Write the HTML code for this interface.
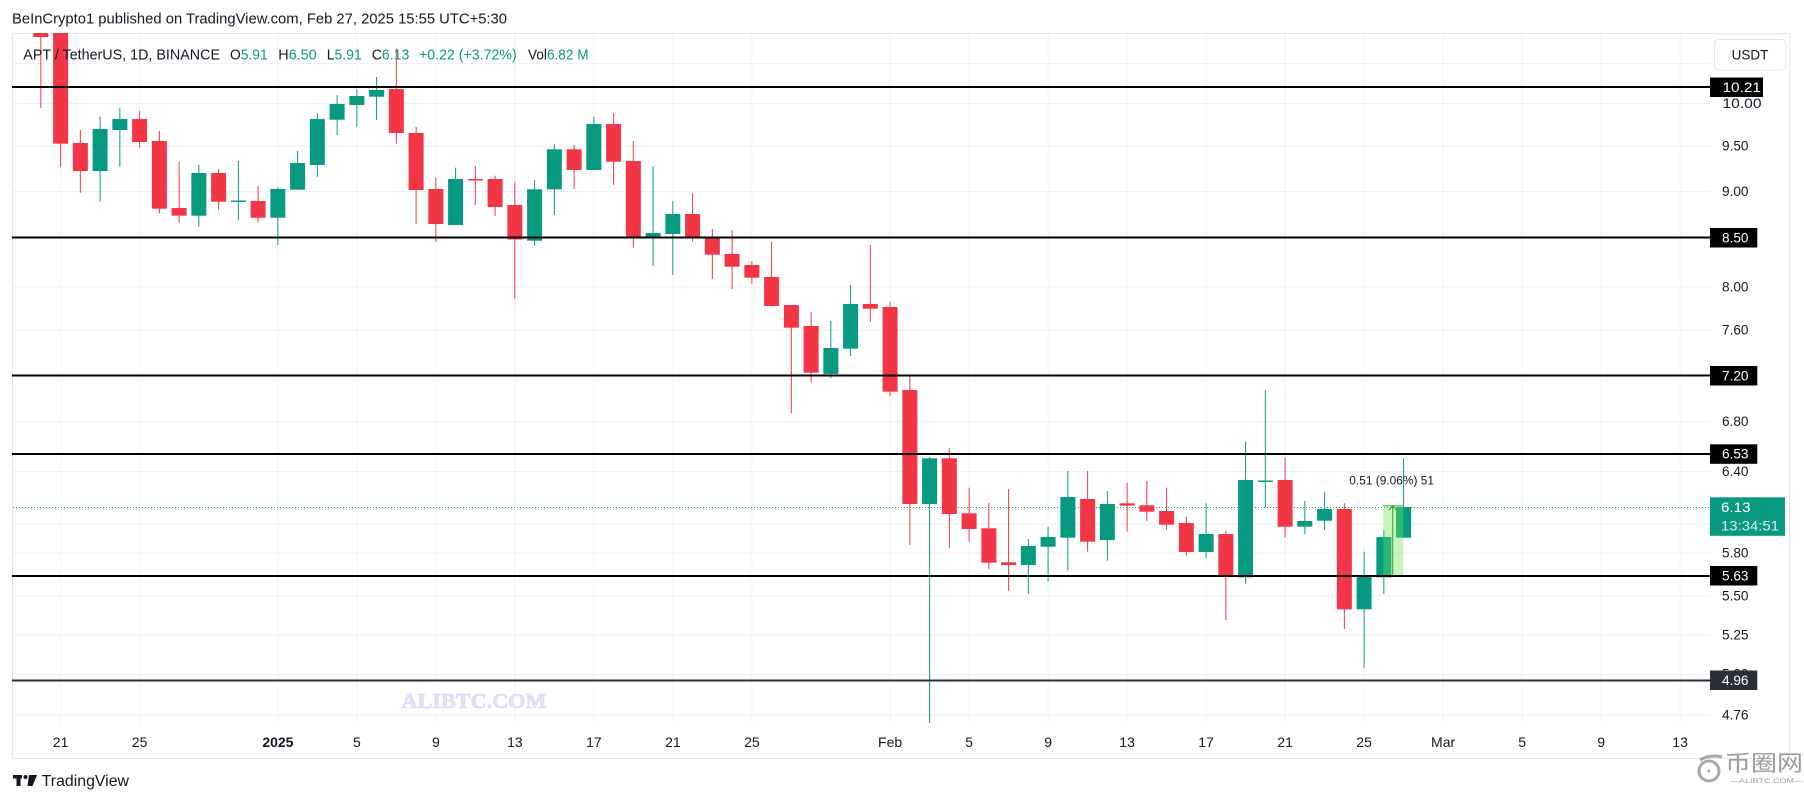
<!DOCTYPE html>
<html><head><meta charset="utf-8"><style>
html,body{margin:0;padding:0;background:#fff;}
svg{display:block;}
.g{fill:#089981}.r{fill:#f23645}
text{font-family:"Liberation Sans",Arial,sans-serif;}
</style></head><body>
<svg width="1804" height="803" viewBox="0 0 1804 803" xmlns="http://www.w3.org/2000/svg">
<rect x="0" y="0" width="1804" height="803" fill="#fff"/>
<!-- frame -->
<rect x="12.5" y="33.5" width="1777" height="725" fill="none" stroke="#e6e8ee" stroke-width="1"/>
<!-- grid vertical -->
<g stroke="#f0f2f6" stroke-width="1">
<line x1="60.6" y1="34" x2="60.6" y2="723"/><line x1="139.6" y1="34" x2="139.6" y2="723"/><line x1="277.9" y1="34" x2="277.9" y2="723"/><line x1="356.9" y1="34" x2="356.9" y2="723"/><line x1="435.9" y1="34" x2="435.9" y2="723"/><line x1="514.9" y1="34" x2="514.9" y2="723"/><line x1="593.9" y1="34" x2="593.9" y2="723"/><line x1="672.9" y1="34" x2="672.9" y2="723"/><line x1="751.9" y1="34" x2="751.9" y2="723"/><line x1="890.1" y1="34" x2="890.1" y2="723"/><line x1="969.1" y1="34" x2="969.1" y2="723"/><line x1="1048.1" y1="34" x2="1048.1" y2="723"/><line x1="1127.1" y1="34" x2="1127.1" y2="723"/><line x1="1206.1" y1="34" x2="1206.1" y2="723"/><line x1="1285.1" y1="34" x2="1285.1" y2="723"/><line x1="1364.1" y1="34" x2="1364.1" y2="723"/><line x1="1443.1" y1="34" x2="1443.1" y2="723"/><line x1="1522.1" y1="34" x2="1522.1" y2="723"/><line x1="1601.1" y1="34" x2="1601.1" y2="723"/><line x1="1680.1" y1="34" x2="1680.1" y2="723"/>
</g>
<!-- grid horizontal -->
<g stroke="#f0f2f6" stroke-width="1">
<line x1="13" y1="63.5" x2="1710" y2="63.5"/><line x1="13" y1="103.5" x2="1710" y2="103.5"/><line x1="13" y1="146" x2="1710" y2="146"/><line x1="13" y1="191.5" x2="1710" y2="191.5"/><line x1="13" y1="287" x2="1710" y2="287"/><line x1="13" y1="330" x2="1710" y2="330"/><line x1="13" y1="421.5" x2="1710" y2="421.5"/><line x1="13" y1="471.5" x2="1710" y2="471.5"/><line x1="13" y1="524" x2="1710" y2="524"/><line x1="13" y1="553" x2="1710" y2="553"/><line x1="13" y1="595.7" x2="1710" y2="595.7"/><line x1="13" y1="635" x2="1710" y2="635"/><line x1="13" y1="674" x2="1710" y2="674"/><line x1="13" y1="715" x2="1710" y2="715"/>
</g>

<!-- watermark -->
<text x="474" y="708" text-anchor="middle" font-family="Liberation Serif, serif" font-weight="bold" font-size="21" fill="#e4e0f8" stroke="#d8d2f2" stroke-width="0.6" textLength="145" lengthAdjust="spacingAndGlyphs" style="font-family:'Liberation Serif',serif">ALIBTC.COM</text>

<!-- current price dotted line -->
<line x1="13" y1="507.5" x2="1710" y2="507.5" stroke="#089981" stroke-width="1" stroke-dasharray="1,2"/>

<!-- candles -->
<svg x="0" y="33" width="1710" height="690" viewBox="0 33 1710 690" overflow="hidden">
<g>
<rect class="r" x="40.35" y="30" width="1" height="78"/><rect class="r" x="33.35" y="30" width="15" height="7"/>
<rect class="r" x="60.1" y="30" width="1" height="136.7"/><rect class="r" x="53.1" y="30" width="15" height="113.7"/>
<rect class="r" x="79.85" y="130" width="1" height="62.7"/><rect class="r" x="72.85" y="143" width="15" height="28"/>
<rect class="g" x="99.6" y="116.7" width="1" height="85"/><rect class="g" x="92.6" y="129" width="15" height="42"/>
<rect class="g" x="119.35" y="107.7" width="1" height="59"/><rect class="g" x="112.35" y="119" width="15" height="11"/>
<rect class="r" x="139.1" y="111" width="1" height="36.7"/><rect class="r" x="132.1" y="119" width="15" height="23"/>
<rect class="r" x="158.85" y="131" width="1" height="82.3"/><rect class="r" x="151.85" y="141" width="15" height="67.7"/>
<rect class="r" x="178.6" y="161.7" width="1" height="61"/><rect class="r" x="171.6" y="208" width="15" height="7.7"/>
<rect class="g" x="198.35" y="165" width="1" height="61.7"/><rect class="g" x="191.35" y="173" width="15" height="42.7"/>
<rect class="r" x="218.1" y="169" width="1" height="40.7"/><rect class="r" x="211.1" y="173" width="15" height="28.7"/>
<rect class="g" x="237.85" y="161" width="1" height="59"/><rect class="g" x="230.85" y="200.5" width="15" height="1.5"/>
<rect class="r" x="257.6" y="186" width="1" height="36.7"/><rect class="r" x="250.6" y="201" width="15" height="16.7"/>
<rect class="g" x="277.35" y="187.3" width="1" height="57.7"/><rect class="g" x="270.35" y="189" width="15" height="28.7"/>
<rect class="g" x="297.1" y="151" width="1" height="38.7"/><rect class="g" x="290.1" y="163" width="15" height="26.7"/>
<rect class="g" x="316.85" y="113.3" width="1" height="63.4"/><rect class="g" x="309.85" y="119" width="15" height="46"/>
<rect class="g" x="336.6" y="95" width="1" height="40"/><rect class="g" x="329.6" y="104" width="15" height="15.7"/>
<rect class="g" x="356.35" y="89" width="1" height="37.7"/><rect class="g" x="349.35" y="96" width="15" height="9"/>
<rect class="g" x="376.1" y="77" width="1" height="43"/><rect class="g" x="369.1" y="90" width="15" height="6.7"/>
<rect class="r" x="395.85" y="48.3" width="1" height="95.4"/><rect class="r" x="388.85" y="89" width="15" height="44"/>
<rect class="r" x="415.6" y="127" width="1" height="97"/><rect class="r" x="408.6" y="133" width="15" height="57"/>
<rect class="r" x="435.35" y="177.7" width="1" height="64"/><rect class="r" x="428.35" y="189" width="15" height="35"/>
<rect class="g" x="455.1" y="167.7" width="1" height="57.3"/><rect class="g" x="448.1" y="179" width="15" height="46"/>
<rect class="r" x="474.85" y="166" width="1" height="39"/><rect class="r" x="467.85" y="179" width="15" height="1.5"/>
<rect class="r" x="494.6" y="175.7" width="1" height="40.3"/><rect class="r" x="487.6" y="179" width="15" height="28"/>
<rect class="r" x="514.35" y="181.7" width="1" height="117.3"/><rect class="r" x="507.35" y="205" width="15" height="34.5"/>
<rect class="g" x="534.1" y="180" width="1" height="65.7"/><rect class="g" x="527.1" y="189.3" width="15" height="51.4"/>
<rect class="g" x="553.85" y="144" width="1" height="71"/><rect class="g" x="546.85" y="149.3" width="15" height="40"/>
<rect class="r" x="573.6" y="145" width="1" height="44"/><rect class="r" x="566.6" y="149.3" width="15" height="20.7"/>
<rect class="g" x="593.35" y="116.7" width="1" height="53.3"/><rect class="g" x="586.35" y="124" width="15" height="46"/>
<rect class="r" x="613.1" y="113.3" width="1" height="71.7"/><rect class="r" x="606.1" y="124" width="15" height="37.7"/>
<rect class="r" x="632.85" y="141" width="1" height="106.7"/><rect class="r" x="625.85" y="161" width="15" height="75.7"/>
<rect class="g" x="652.6" y="166" width="1" height="100"/><rect class="g" x="645.6" y="233" width="15" height="5.3"/>
<rect class="g" x="672.35" y="201" width="1" height="74"/><rect class="g" x="665.35" y="214" width="15" height="20"/>
<rect class="r" x="692.1" y="193.3" width="1" height="48.4"/><rect class="r" x="685.1" y="214" width="15" height="22.7"/>
<rect class="r" x="711.85" y="229" width="1" height="50"/><rect class="r" x="704.85" y="236.7" width="15" height="18"/>
<rect class="r" x="731.6" y="230" width="1" height="59"/><rect class="r" x="724.6" y="254" width="15" height="12.7"/>
<rect class="r" x="751.35" y="261" width="1" height="23"/><rect class="r" x="744.35" y="265" width="15" height="12.7"/>
<rect class="r" x="771.1" y="241.7" width="1" height="65"/><rect class="r" x="764.1" y="277" width="15" height="29"/>
<rect class="r" x="790.85" y="305" width="1" height="108.3"/><rect class="r" x="783.85" y="305" width="15" height="22.7"/>
<rect class="r" x="810.6" y="311.7" width="1" height="71"/><rect class="r" x="803.6" y="326" width="15" height="46.7"/>
<rect class="g" x="830.35" y="321" width="1" height="57.3"/><rect class="g" x="823.35" y="348" width="15" height="26"/>
<rect class="g" x="850.1" y="285" width="1" height="71"/><rect class="g" x="843.1" y="304" width="15" height="44.7"/>
<rect class="r" x="869.85" y="245" width="1" height="76.7"/><rect class="r" x="862.85" y="304" width="15" height="4.7"/>
<rect class="r" x="889.6" y="301.7" width="1" height="94.3"/><rect class="r" x="882.6" y="307" width="15" height="84.7"/>
<rect class="r" x="909.35" y="376" width="1" height="169"/><rect class="r" x="902.35" y="390" width="15" height="114"/>
<rect class="g" x="929.1" y="457" width="1" height="267"/><rect class="g" x="922.1" y="458.3" width="15" height="45.7"/>
<rect class="r" x="948.85" y="448.3" width="1" height="100"/><rect class="r" x="941.85" y="458.3" width="15" height="55.7"/>
<rect class="r" x="968.6" y="487.7" width="1" height="54"/><rect class="r" x="961.6" y="513.3" width="15" height="15.7"/>
<rect class="r" x="988.35" y="502.7" width="1" height="66.3"/><rect class="r" x="981.35" y="528.3" width="15" height="34.4"/>
<rect class="r" x="1008.1" y="489" width="1" height="101.7"/><rect class="r" x="1001.1" y="562.3" width="15" height="2.7"/>
<rect class="g" x="1027.85" y="539" width="1" height="55"/><rect class="g" x="1020.85" y="546" width="15" height="19"/>
<rect class="g" x="1047.6" y="526.7" width="1" height="55"/><rect class="g" x="1040.6" y="537" width="15" height="9.7"/>
<rect class="g" x="1067.35" y="471" width="1" height="99.7"/><rect class="g" x="1060.35" y="497" width="15" height="40.7"/>
<rect class="r" x="1087.1" y="471" width="1" height="80.7"/><rect class="r" x="1080.1" y="499" width="15" height="42.7"/>
<rect class="g" x="1106.85" y="491" width="1" height="69.7"/><rect class="g" x="1099.85" y="504" width="15" height="36"/>
<rect class="r" x="1126.6" y="482.7" width="1" height="49"/><rect class="r" x="1119.6" y="503.3" width="15" height="2.4"/>
<rect class="r" x="1146.35" y="481" width="1" height="40"/><rect class="r" x="1139.35" y="505.3" width="15" height="6.4"/>
<rect class="r" x="1166.1" y="487.7" width="1" height="42.3"/><rect class="r" x="1159.1" y="511" width="15" height="13.7"/>
<rect class="r" x="1185.85" y="516.7" width="1" height="39"/><rect class="r" x="1178.85" y="523" width="15" height="29"/>
<rect class="g" x="1205.6" y="503.3" width="1" height="55"/><rect class="g" x="1198.6" y="534" width="15" height="18"/>
<rect class="r" x="1225.35" y="531" width="1" height="89"/><rect class="r" x="1218.35" y="534" width="15" height="41"/>
<rect class="g" x="1245.1" y="441.7" width="1" height="142.3"/><rect class="g" x="1238.1" y="480" width="15" height="97.3"/>
<rect class="g" x="1264.85" y="390" width="1" height="117.3"/><rect class="g" x="1257.85" y="480.5" width="15" height="1.5"/>
<rect class="r" x="1284.6" y="457.7" width="1" height="80"/><rect class="r" x="1277.6" y="480" width="15" height="46.7"/>
<rect class="g" x="1304.35" y="501" width="1" height="33"/><rect class="g" x="1297.35" y="521" width="15" height="5.7"/>
<rect class="g" x="1324.1" y="492.3" width="1" height="37.7"/><rect class="g" x="1317.1" y="509" width="15" height="11.7"/>
<rect class="r" x="1343.85" y="503.3" width="1" height="125.7"/><rect class="r" x="1336.85" y="509" width="15" height="100.3"/>
<rect class="g" x="1363.6" y="551.7" width="1" height="116"/><rect class="g" x="1356.6" y="576.7" width="15" height="32.6"/>
<rect class="g" x="1383.35" y="530" width="1" height="64"/><rect class="g" x="1376.35" y="537" width="15" height="40.3"/>
<rect class="g" x="1403.1" y="458.3" width="1" height="79.4"/><rect class="g" x="1396.1" y="507" width="15" height="30.7"/>
</g>
</svg>

<!-- measurement tool -->
<rect x="1383.3" y="505.3" width="20" height="71.4" fill="rgba(110,225,80,0.38)"/>
<line x1="1383.3" y1="505.8" x2="1403.3" y2="505.8" stroke="#4caf50" stroke-width="1"/>
<line x1="1392.7" y1="506" x2="1392.7" y2="576.5" stroke="#2e9e3a" stroke-width="1"/>
<polyline points="1388.7,510 1392.7,506 1396.7,510" fill="none" stroke="#2e9e3a" stroke-width="1"/>
<text x="1349.3" y="484.5" font-size="11.5" fill="#131722" textLength="84.7" lengthAdjust="spacingAndGlyphs">0.51 (9.06%) 51</text>

<!-- level lines -->
<g stroke="#000" stroke-width="2">
<line x1="12" y1="87" x2="1710" y2="87"/>
<line x1="12" y1="237.5" x2="1710" y2="237.5"/>
<line x1="12" y1="375.5" x2="1710" y2="375.5"/>
<line x1="12" y1="454" x2="1710" y2="454"/>
<line x1="12" y1="576" x2="1710" y2="576"/>
</g>
<line x1="12" y1="680.5" x2="1710" y2="680.5" stroke="#2a2e39" stroke-width="2"/>

<!-- header -->
<text x="12" y="23.5" font-size="15" fill="#131722" textLength="495" lengthAdjust="spacingAndGlyphs">BeInCrypto1 published on TradingView.com, Feb 27, 2025 15:55 UTC+5:30</text>

<!-- legend -->
<g font-size="15">
<text x="23.3" y="59.3" fill="#131722" textLength="196.7" lengthAdjust="spacingAndGlyphs">APT / TetherUS, 1D, BINANCE</text>
<text x="230" y="59.3" textLength="37.7" lengthAdjust="spacingAndGlyphs"><tspan fill="#131722">O</tspan><tspan fill="#089981">5.91</tspan></text>
<text x="278.3" y="59.3" textLength="38.4" lengthAdjust="spacingAndGlyphs"><tspan fill="#131722">H</tspan><tspan fill="#089981">6.50</tspan></text>
<text x="326.7" y="59.3" textLength="35" lengthAdjust="spacingAndGlyphs"><tspan fill="#131722">L</tspan><tspan fill="#089981">5.91</tspan></text>
<text x="371.7" y="59.3" textLength="37.6" lengthAdjust="spacingAndGlyphs"><tspan fill="#131722">C</tspan><tspan fill="#089981">6.13</tspan></text>
<text x="419" y="59.3" fill="#089981" textLength="97.7" lengthAdjust="spacingAndGlyphs">+0.22 (+3.72%)</text>
<text x="528" y="59.3" textLength="60.6" lengthAdjust="spacingAndGlyphs"><tspan fill="#131722">Vol</tspan><tspan fill="#089981">6.82 M</tspan></text>
</g>

<!-- price axis labels -->
<g font-size="13.5" fill="#131722">
<text x="1722.5" y="108.2" textLength="39" lengthAdjust="spacingAndGlyphs">10.00</text>
<text x="1722" y="150.7" textLength="26.5" lengthAdjust="spacingAndGlyphs">9.50</text>
<text x="1722" y="196.2" textLength="26.5" lengthAdjust="spacingAndGlyphs">9.00</text>
<text x="1722" y="291.7" textLength="26.5" lengthAdjust="spacingAndGlyphs">8.00</text>
<text x="1722" y="334.7" textLength="26.5" lengthAdjust="spacingAndGlyphs">7.60</text>
<text x="1722" y="426.2" textLength="26.5" lengthAdjust="spacingAndGlyphs">6.80</text>
<text x="1722" y="476.2" textLength="26.5" lengthAdjust="spacingAndGlyphs">6.40</text>
<text x="1722" y="557.7" textLength="26.5" lengthAdjust="spacingAndGlyphs">5.80</text>
<text x="1722" y="600.4" textLength="26.5" lengthAdjust="spacingAndGlyphs">5.50</text>
<text x="1722" y="639.7" textLength="26.5" lengthAdjust="spacingAndGlyphs">5.25</text>
<text x="1722" y="678.7" textLength="26.5" lengthAdjust="spacingAndGlyphs">5.00</text>
<text x="1722" y="719.7" textLength="26.5" lengthAdjust="spacingAndGlyphs">4.76</text>
</g>

<!-- level label boxes -->
<g font-size="13.5" fill="#fff">
<rect x="1710" y="77.5" width="53" height="19.5" fill="#000"/>
<text x="1722.5" y="91.8" textLength="38.5" lengthAdjust="spacingAndGlyphs">10.21</text>
<rect x="1710" y="228" width="47.3" height="19.5" fill="#000"/>
<text x="1722" y="242.3" textLength="26.5" lengthAdjust="spacingAndGlyphs">8.50</text>
<rect x="1710" y="366" width="47.3" height="19.5" fill="#000"/>
<text x="1722" y="380.3" textLength="26.5" lengthAdjust="spacingAndGlyphs">7.20</text>
<rect x="1710" y="444.3" width="47.3" height="19.5" fill="#000"/>
<text x="1722" y="458.6" textLength="26.5" lengthAdjust="spacingAndGlyphs">6.53</text>
<rect x="1710" y="566" width="47.3" height="19.5" fill="#000"/>
<text x="1722" y="580.3" textLength="26.5" lengthAdjust="spacingAndGlyphs">5.63</text>
<rect x="1710" y="670.5" width="47.3" height="19.5" fill="#2a2e39"/>
<text x="1722" y="684.8" textLength="26.5" lengthAdjust="spacingAndGlyphs">4.96</text>
<rect x="1710" y="497.3" width="75" height="38.5" fill="#089981"/>
<text x="1721" y="512" textLength="29.5" lengthAdjust="spacingAndGlyphs">6.13</text>
<text x="1721" y="530.6" fill="#d9f2ec" textLength="58" lengthAdjust="spacingAndGlyphs">13:34:51</text>
</g>

<!-- USDT button -->
<rect x="1714.5" y="39.5" width="71.5" height="30.5" rx="4" fill="#fff" stroke="#e3e6ec" stroke-width="1"/>
<text x="1750" y="59.7" font-size="13.5" fill="#131722" text-anchor="middle">USDT</text>

<!-- time axis labels -->
<g font-size="14" fill="#131722" text-anchor="middle">
<text x="60.6" y="747">21</text><text x="139.6" y="747">25</text>
<text x="277.9" y="747" font-weight="bold">2025</text>
<text x="356.9" y="747">5</text><text x="435.9" y="747">9</text><text x="514.9" y="747">13</text><text x="593.9" y="747">17</text><text x="672.9" y="747">21</text><text x="751.9" y="747">25</text>
<text x="890.1" y="747">Feb</text>
<text x="969.1" y="747">5</text><text x="1048.1" y="747">9</text><text x="1127.1" y="747">13</text><text x="1206.1" y="747">17</text><text x="1285.1" y="747">21</text><text x="1364.1" y="747">25</text>
<text x="1443.1" y="747">Mar</text>
<text x="1522.1" y="747">5</text><text x="1601.1" y="747">9</text><text x="1680.1" y="747">13</text>
</g>

<!-- TradingView footer -->
<g fill="#131722">
<rect x="13" y="775" width="9" height="3.5"/>
<rect x="16.5" y="775" width="4" height="11"/>
<circle cx="25.5" cy="777" r="2"/>
<polygon points="29,775 37,775 32.5,786 27.5,786"/>
</g>
<text x="41.7" y="786" font-size="15.5" fill="#131722" textLength="87.3" lengthAdjust="spacingAndGlyphs">TradingView</text>

<!-- 币圈网 logo -->
<circle cx="1709" cy="771" r="10" fill="none" stroke="#a8a8a8" stroke-width="3"/>
<path d="M1700 760 Q1710 754 1722 757" fill="none" stroke="#a8a8a8" stroke-width="3"/>
<text x="1709" y="774" font-size="8" fill="#a8a8a8" text-anchor="middle">✦</text>
<text x="1725" y="771" font-size="22" fill="#9a9a9a" textLength="78" lengthAdjust="spacingAndGlyphs" style="font-family:'Liberation Sans','Noto Sans CJK SC',sans-serif">币圈网</text>
<text x="1730" y="783" font-size="6.5" fill="#9a9a9a" textLength="73" lengthAdjust="spacingAndGlyphs">—ALIBTC.COM—</text>
</svg>
</body></html>
